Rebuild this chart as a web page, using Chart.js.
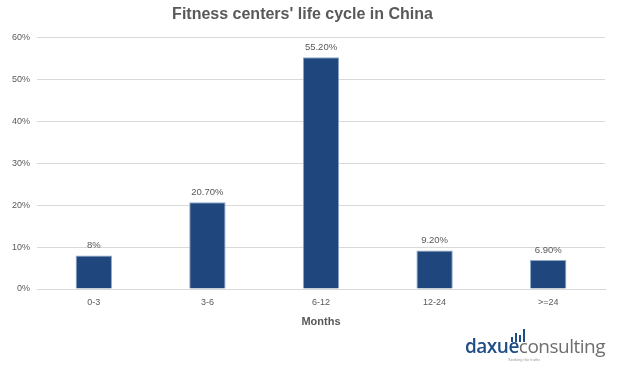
<!DOCTYPE html>
<html>
<head>
<meta charset="utf-8">
<script src="https://cdn.jsdelivr.net/npm/chart.js@4"></script>
<style>
  body { margin: 0; background: #fff; }
  #wrap { position: relative; width: 634px; height: 365px; }
  #logo { position: absolute; left: 465px; top: 336px; font-family: "Open Sans", Arial, sans-serif; font-size: 19px; letter-spacing: -0.5px; line-height: 20px; }
  #logo .a { color: #1f4e87; font-weight: 600; }
  #logo .b { color: #6e6e6e; }
  #icon { position: absolute; left: 511px; top: 328px; height: 14px; width: 20px; }
  #icon span { position: absolute; bottom: 0; width: 2px; background: #1f4e87; }
  #tag { position: absolute; left: 508px; top: 357px; font-size: 4px; color: #999; font-family: Arial, sans-serif; }
</style>
</head>
<body>
<div id="wrap">
  <canvas id="myChart" width="634" height="365"></canvas>
  <div id="icon"><span style="left:0;height:5px"></span><span style="left:4px;height:9px"></span><span style="left:8px;height:7px"></span><span style="left:12px;height:13px"></span></div>
  <div id="logo"><span class="a">daxue</span><span class="b">consulting</span></div>
  <div id="tag">Seeking the truths</div>
</div>
<script>
// 資料
var months = ['0-3', '3-6', '6-12', '12-24', '>=24'];
var shares = [0.08, 0.207, 0.552, 0.092, 0.069];
var shareLabels = ['8%', '20.70%', '55.20%', '9.20%', '6.90%'];

// 柱上數字
var barLabels = {
    id: 'barLabels',
    afterDatasetsDraw: function (chart) {
        var ctx = chart.ctx;
        var meta = chart.getDatasetMeta(0);
        ctx.save();
        ctx.font = '9.5px "Liberation Sans", Arial, sans-serif';
        ctx.fillStyle = '#595959';
        ctx.textAlign = 'center';
        ctx.textBaseline = 'bottom';
        meta.data.forEach(function (bar, i) {
            ctx.fillText(shareLabels[i], bar.x, bar.y - 5);
        });
        ctx.restore();
    }
};

var ctx1 = document.getElementById('myChart');
var myChart = new Chart(ctx1, {
    type: 'bar',
    data: {
        labels: months,
        datasets: [{
            data: shares,
            backgroundColor: '#1f477d',
            borderColor: '#8fa8c8',
            borderWidth: 1,
            categoryPercentage: 1,
            barPercentage: 0.32
        }]
    },
    options: {
        responsive: false,
        animation: false,
        layout: { padding: { left: 0, right: 29, top: 0, bottom: 32 } },
        plugins: {
            legend: { display: false },
            tooltip: { enabled: false },
            title: {
                display: true,
                text: "Fitness centers' life cycle in China",
                color: '#595959',
                font: { family: '"Liberation Sans", Arial, sans-serif', size: 16, weight: 'bold' },
                padding: { top: 5, bottom: 13 }
            }
        },
        scales: {
            x: {
                grid: { display: false },
                border: { color: '#d9d9d9' },
                ticks: { color: '#595959', font: { family: '"Liberation Sans", Arial, sans-serif', size: 9 }, padding: 0 },
                title: {
                    display: true,
                    text: 'Months',
                    color: '#595959',
                    font: { family: '"Liberation Sans", Arial, sans-serif', size: 11, weight: 'bold' },
                    padding: { top: 8 }
                }
            },
            y: {
                min: 0,
                max: 0.6,
                afterFit: function (scale) { scale.width = 37; },
                grid: { color: '#d9d9d9', drawTicks: false },
                border: { display: false },
                ticks: {
                    stepSize: 0.1,
                    color: '#595959',
                    padding: 7,
                    font: { family: '"Liberation Sans", Arial, sans-serif', size: 9 },
                    callback: function (v) { return Math.round(v * 100) + '%'; }
                }
            }
        }
    },
    plugins: [barLabels]
});
</script>
</body>
</html>
